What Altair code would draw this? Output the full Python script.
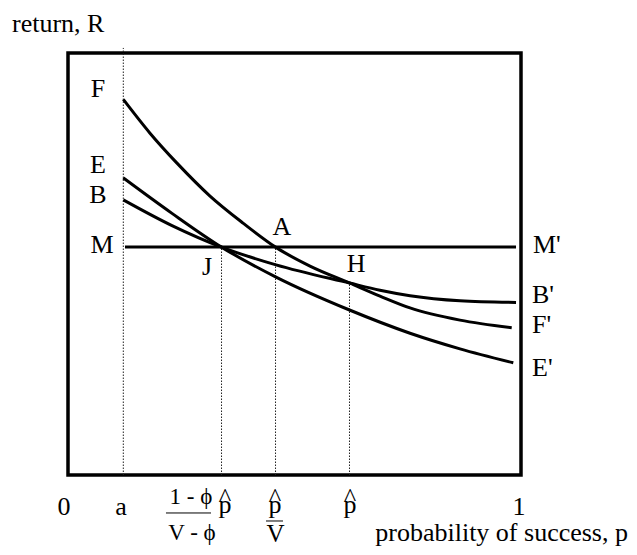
import altair as alt
import pandas as pd

# ---- data (x: probability of success 0..1, y: return in arbitrary units 0..100) ----
F_x = [0.1221, 0.1810, 0.2406, 0.3135, 0.3863, 0.4581, 0.5342, 0.6214, 0.6887, 0.7550, 0.8653, 0.9795]
F_y = [89.0, 81.0, 73.9, 66.1, 59.7, 54.0, 49.5, 45.5, 42.4, 39.6, 36.7, 34.9]
E_x = [0.1221, 0.2296, 0.3389, 0.4592, 0.6214, 0.7550, 0.8653, 0.9830]
E_y = [70.4, 62.0, 54.0, 46.9, 39.1, 33.6, 29.9, 26.6]
B_x = [0.1221, 0.2296, 0.3389, 0.4592, 0.6214, 0.6887, 0.7550, 0.8653, 0.9890]
B_y = [65.2, 59.1, 54.0, 49.8, 45.5, 43.8, 42.5, 41.3, 40.9]

M_level = 54.0
M_from, M_to = 0.1258, 0.989

guide_x = [0.1221, 0.3389, 0.4581, 0.6214]      # a, J, A, H
guide_top = [101.2, 54.0, 54.0, 45.5]

label_text = ["return, R", "F", "E", "B", "M", "A", "J", "H", "M'", "B'", "F'", "E'",
              "0", "a", "1", "probability of success, p", "1 - ϕ", "V - ϕ", "V",
              "p", "p", "p", "^", "^", "^"]
label_x = [-0.1236, 0.0662, 0.0662, 0.0662, 0.0751, 0.4724, 0.3068, 0.6358, 1.0265, 1.0243, 1.0243, 1.0243,
           -0.0088, 0.117, 0.9956, 1.2362, 0.2715, 0.2737, 0.4581,
           0.3466, 0.4570, 0.6225, 0.3466, 0.4570, 0.6225]
label_y = [104.98, 89.64, 71.56, 64.45, 52.61, 56.87, 47.39, 48.10, 52.61, 40.76, 33.72, 23.46,
           -9.48, -9.48, -9.48, -15.64, -6.87, -15.40, -15.9,
           -9.0, -9.0, -9.0, -7.35, -7.35, -7.35]
label_size = [26, 26, 26, 26, 26, 26, 26, 26, 26, 26, 26, 26,
              26, 26, 26, 26, 23, 23, 25,
              26, 26, 26, 26, 26, 26]
label_align = ["left", "center", "center", "center", "center", "center", "center", "center",
               "left", "left", "left", "left",
               "center", "center", "center", "right", "center", "center", "center",
               "center", "center", "center", "center", "center", "center"]

bar_x = [0.2163, 0.4371]
bar_x2 = [0.3157, 0.4746]
bar_y = [-9.0, -10.9]

# ---- frames ----
curves = pd.concat([
    pd.DataFrame({"x": F_x, "y": F_y, "curve": "F"}),
    pd.DataFrame({"x": E_x, "y": E_y, "curve": "E"}),
    pd.DataFrame({"x": B_x, "y": B_y, "curve": "B"}),
])
guides = pd.DataFrame({"x": guide_x, "y": [0] * len(guide_x), "y2": guide_top})
mline = pd.DataFrame({"x": [M_from], "x2": [M_to], "y": [M_level]})
labels = pd.DataFrame({"text": label_text, "x": label_x, "y": label_y,
                       "fs": label_size, "align": label_align})
bars = pd.DataFrame({"x": bar_x, "x2": bar_x2, "y": bar_y})

xs = alt.Scale(domain=[0, 1], nice=False, zero=False)
ys = alt.Scale(domain=[0, 100], nice=False, zero=False)
X = alt.X("x:Q", scale=xs, axis=None)
Y = alt.Y("y:Q", scale=ys, axis=None)

curve_layer = alt.Chart(curves).mark_line(
    color="black", strokeWidth=3, interpolate="monotone"
).encode(x=X, y=Y, detail="curve:N", order="x:Q")

guide_layer = alt.Chart(guides).mark_rule(
    color="#222", strokeWidth=1, strokeDash=[1.5, 1.5]
).encode(x=X, y=Y, y2="y2:Q")

m_layer = alt.Chart(mline).mark_rule(color="black", strokeWidth=3).encode(x=X, x2="x2:Q", y=Y)

bar_layer = alt.Chart(bars).mark_rule(color="black", strokeWidth=1).encode(x=X, x2="x2:Q", y=Y)

text_layers = []
for al in ["left", "center", "right"]:
    text_layers.append(
        alt.Chart(labels).transform_filter(alt.datum.align == al).mark_text(
            align=al, baseline="alphabetic", font="Liberation Serif", color="black"
        ).encode(x=X, y=Y, text="text:N", size=alt.Size("fs:Q", scale=None, legend=None))
    )

chart = alt.layer(guide_layer, m_layer, curve_layer, bar_layer, *text_layers).properties(
    width=453, height=422,
    autosize=alt.AutoSizeParams(type="none"),
    padding={"left": 60, "top": 45, "right": 108, "bottom": 72},
).configure_view(stroke="black", strokeWidth=3.5)

chart.save("out.html", embed_options={"renderer": "svg", "actions": False})
